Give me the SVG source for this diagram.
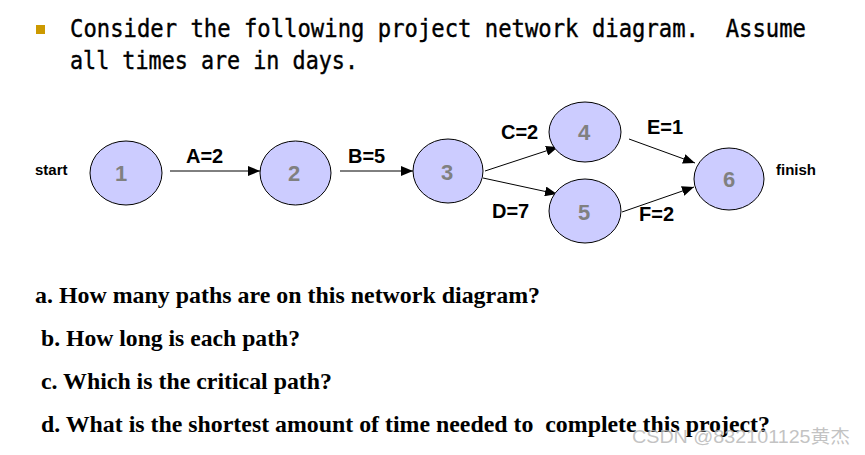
<svg xmlns="http://www.w3.org/2000/svg" width="865" height="455" viewBox="0 0 865 455">
<style>
.node ellipse{fill:#ccccff;stroke:#000;stroke-width:1}
.node text{font-family:"Liberation Sans",Arial,sans-serif;font-weight:bold;font-size:22px;fill:#808080;text-anchor:middle}
.lbl{font-family:"Liberation Sans",Arial,sans-serif;font-weight:bold;font-size:20px;fill:#000}
.side{font-family:"Liberation Sans",Arial,sans-serif;font-weight:bold;font-size:15px;fill:#000}
.title{font-family:"DejaVu Sans Mono","Liberation Mono",monospace;font-size:25px;fill:#000;stroke:#000;stroke-width:0.4;white-space:pre}
.q{font-family:"Liberation Serif","Times New Roman",serif;font-weight:bold;font-size:23px;fill:#000;white-space:pre}
#edges line{stroke:#000;stroke-width:1;marker-end:url(#arr)}
</style>
<defs>
<marker id="arr" viewBox="0 0 12 10" refX="12" refY="5" markerWidth="12" markerHeight="10" markerUnits="userSpaceOnUse" orient="auto">
<path d="M0,0 L12,5 L0,10 Z" fill="#000"/>
</marker>
</defs>
<rect width="865" height="455" fill="#fff"/>
<rect x="36" y="25" width="9" height="9" fill="#cc9900"/>
<text class="title" x="70" y="37" textLength="736" lengthAdjust="spacingAndGlyphs" xml:space="preserve">Consider the following project network diagram.  Assume</text>
<text class="title" x="70" y="69" textLength="288" lengthAdjust="spacingAndGlyphs">all times are in days.</text>
<text class="side" x="35" y="175">start</text>
<text class="side" x="776" y="175">finish</text>
<g id="edges">
<line x1="170" y1="171" x2="260" y2="171"/>
<line x1="340" y1="171" x2="413" y2="171"/>
<line x1="485" y1="171" x2="558" y2="147"/>
<line x1="483" y1="178" x2="557" y2="194"/>
<line x1="629" y1="139" x2="695" y2="163"/>
<line x1="622" y1="212" x2="694" y2="187"/>
</g>
<g id="edge-labels">
<text class="lbl" x="186" y="163">A=2</text>
<text class="lbl" x="348" y="163">B=5</text>
<text class="lbl" x="501" y="139">C=2</text>
<text class="lbl" x="492" y="218">D=7</text>
<text class="lbl" x="647" y="134">E=1</text>
<text class="lbl" x="639" y="221">F=2</text>
</g>
<g id="n1" class="node"><ellipse cx="126" cy="173" rx="36" ry="32"/><text x="121" y="181">1</text></g>
<g id="n2" class="node"><ellipse cx="295.5" cy="173" rx="35.5" ry="32"/><text x="294" y="181">2</text></g>
<g id="n3" class="node"><ellipse cx="448" cy="171" rx="35" ry="32"/><text x="447" y="180">3</text></g>
<g id="n4" class="node"><ellipse cx="585" cy="132" rx="36" ry="30"/><text x="584" y="140">4</text></g>
<g id="n5" class="node"><ellipse cx="585" cy="211" rx="36" ry="32"/><text x="584" y="220">5</text></g>
<g id="n6" class="node"><ellipse cx="729" cy="179" rx="35" ry="31"/><text x="729" y="187">6</text></g>
<text class="q" x="35" y="303" textLength="505" lengthAdjust="spacingAndGlyphs">a. How many paths are on this network diagram?</text>
<text class="q" x="41" y="346" textLength="259" lengthAdjust="spacingAndGlyphs">b. How long is each path?</text>
<text class="q" x="41" y="389" textLength="291" lengthAdjust="spacingAndGlyphs">c. Which is the critical path?</text>
<text class="q" x="41" y="432" textLength="729" lengthAdjust="spacingAndGlyphs" xml:space="preserve">d. What is the shortest amount of time needed to  complete this project?</text>
<text x="632" y="443" font-family="'Liberation Sans','Noto Sans CJK SC',sans-serif" font-size="18" fill="#b8b8b8" fill-opacity="0.85" textLength="218" lengthAdjust="spacingAndGlyphs">CSDN @832101125黄杰</text>
</svg>
